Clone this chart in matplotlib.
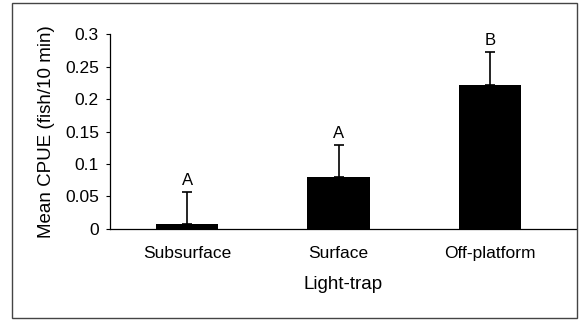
import matplotlib.pyplot as plt
from matplotlib.patches import Rectangle

plt.rcParams['font.family'] = ['Liberation Sans', 'DejaVu Sans']

traps = ['Subsurface', 'Surface', 'Off-platform']
mean_cpue = [0.007, 0.08, 0.222]
se_upper = [0.05, 0.05, 0.05]
groups = ['A', 'A', 'B']

fig = plt.figure(figsize=(5.79, 3.22), dpi=100)
ax = fig.add_axes([0.19, 0.289, 0.805, 0.605])

x = range(len(traps))
ax.bar(x, mean_cpue, width=0.41, color='black')
ax.errorbar(x, mean_cpue, yerr=[[0] * len(traps), se_upper], fmt='none',
            ecolor='black', elinewidth=1.2, capsize=3.5, capthick=1.2)

for xi, m, e, g in zip(x, mean_cpue, se_upper, groups):
    ax.text(xi, m + e + 0.006, g, ha='center', va='bottom', fontsize=12)

ax.set_xlim(-0.51, 2.57)
ax.set_ylim(0, 0.3)
ax.set_yticks([0, 0.05, 0.1, 0.15, 0.2, 0.25, 0.3])
ax.set_yticklabels(['0', '0.05', '0.1', '0.15', '0.2', '0.25', '0.3'])
ax.set_xticks(list(x))
ax.set_xticklabels(traps)
ax.tick_params(axis='x', length=0, labelsize=12.5, pad=12)
ax.tick_params(axis='y', length=3, width=0.8, labelsize=12.5, pad=5)
ax.spines['top'].set_visible(False)
ax.spines['right'].set_visible(False)
for s in ('left', 'bottom'):
    ax.spines[s].set_linewidth(0.9)

ax.set_xlabel('Light-trap', fontsize=13.5, labelpad=11)
ax.set_ylabel('Mean CPUE (fish/10 min)', fontsize=13.5, labelpad=7)

# frame around the whole figure
fig.patches.append(Rectangle((0.021, 0.012), 0.975, 0.978, transform=fig.transFigure,
                             fill=False, edgecolor='#444444', linewidth=1))

fig.savefig('out.png', dpi=100)
